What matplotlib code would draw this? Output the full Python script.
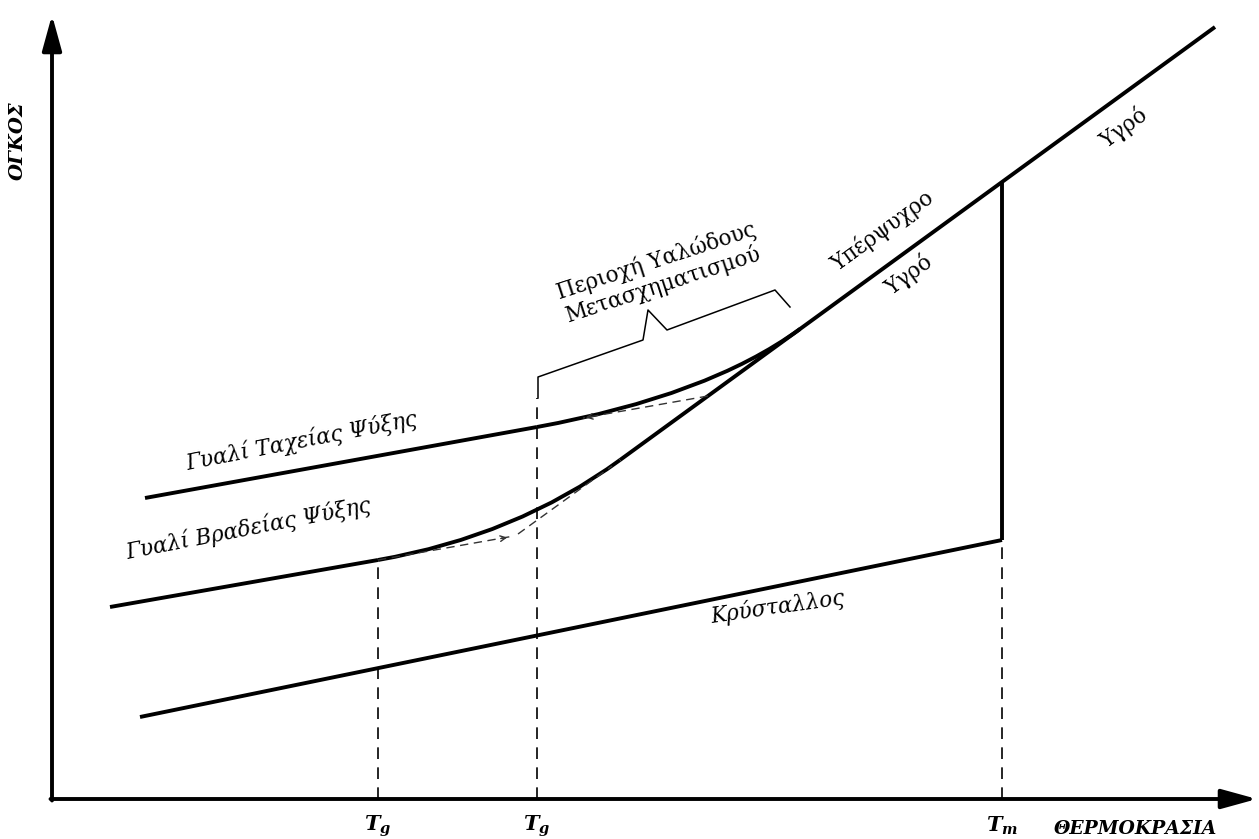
import matplotlib
matplotlib.use('Agg')
import matplotlib.pyplot as plt
from matplotlib.path import Path
from matplotlib.patches import PathPatch

plt.rcParams['font.family'] = ['DejaVu Serif']
plt.rcParams['mathtext.fontset'] = 'dejavuserif'

# schematic volume-temperature diagram (arbitrary units)
T_g_slow = 326
T_g_fast = 485
T_m = 950

liquid_T = [568, 748, 950, 1163]
liquid_V = [339, 470, 617, 772]

fast_glass_T = [93, 485]
fast_glass_V = [301, 372]
fast_curve_T = [485, 656, 748]   # start, control, end (joins liquid)
fast_curve_V = [372, 403, 470]

slow_glass_T = [58, 326]
slow_glass_V = [192, 239]
slow_curve_T = [326, 464, 568]
slow_curve_V = [239, 263, 339]

crystal_T = [88, 950]
crystal_V = [82, 259]
melt_V = [259, 617]

# extrapolations (dashed)
fast_ext_T = [656, 531]
fast_ext_V = [403, 381]
slow_ext_T = [326, 462]
slow_ext_V = [239, 263]
liquid_ext_T = [466, 560]
liquid_ext_V = [265, 333]

bracket_T = [486, 486, 591, 596, 615, 723, 738]
bracket_V = [401, 422, 459, 489, 469, 509, 492]

fig = plt.figure(figsize=(12.59, 8.39), dpi=100)
ax = fig.add_axes([0, 0, 1, 1])
ax.set_xlim(-52, 1207)
ax.set_ylim(-40, 799)
ax.axis('off')

lw = 2.8
ax.plot(liquid_T, liquid_V, color='black', lw=lw, solid_capstyle='butt')
ax.plot(fast_glass_T, fast_glass_V, color='black', lw=lw, solid_capstyle='butt')
ax.plot(slow_glass_T, slow_glass_V, color='black', lw=lw, solid_capstyle='butt')
ax.plot(crystal_T, crystal_V, color='black', lw=lw, solid_capstyle='butt')
ax.plot([T_m, T_m], melt_V, color='black', lw=lw, solid_capstyle='butt')

for cT, cV in [(fast_curve_T, fast_curve_V), (slow_curve_T, slow_curve_V)]:
    path = Path(list(zip(cT, cV)), [Path.MOVETO, Path.CURVE3, Path.CURVE3])
    ax.add_patch(PathPatch(path, fill=False, lw=lw, edgecolor='black'))

# dashed guides
dash = dict(color='black', lw=1.2, dashes=(7, 5))
ax.plot([T_g_slow, T_g_slow], [0, slow_glass_V[1]], **dash)
ax.plot([T_g_fast, T_g_fast], [0, bracket_V[0]], **dash)
ax.plot([T_m, T_m], [0, crystal_V[1]], **dash)

thin = dict(color='#333333', lw=1.0, dashes=(6, 4))
ax.plot(fast_ext_T, fast_ext_V, **thin)
ax.plot(slow_ext_T, slow_ext_V, **thin)
ax.plot(liquid_ext_T, liquid_ext_V, **thin)
ax.annotate('', xy=(fast_ext_T[1], fast_ext_V[1]), xytext=(fast_ext_T[1] + 12, fast_ext_V[1] + 2),
            arrowprops=dict(arrowstyle='->', lw=1.0, color='#333333', mutation_scale=10))
ax.annotate('', xy=(slow_ext_T[1] - 4, slow_ext_V[1] - 1), xytext=(slow_ext_T[1] - 16, slow_ext_V[1] - 3),
            arrowprops=dict(arrowstyle='->', lw=1.0, color='#333333', mutation_scale=10))

ax.plot(bracket_T, bracket_V, color='black', lw=1.1)

# axes with arrows
arrow = dict(arrowstyle='-|>,head_length=0.8,head_width=0.22', lw=2.8, color='black',
             mutation_scale=27, shrinkA=0, shrinkB=0)
ax.annotate('', xy=(0, 784), xytext=(0, -1.5), arrowprops=arrow)
ax.annotate('', xy=(1205, 0), xytext=(-1.5, 0), arrowprops=arrow)

# labels
ax.text(-34, 658, 'ΟΓΚΟΣ', rotation=90, ha='center', va='center',
        fontsize=14, fontweight='bold', fontstyle='italic')
ax.text(1135 - 52, -30, 'ΘΕΡΜΟΚΡΑΣΙΑ', ha='center', va='center',
        fontsize=13.5, fontweight='bold', fontstyle='italic')
for t, s in [(T_g_slow, r'$\mathbfit{T_g}$'), (T_g_fast, r'$\mathbfit{T_g}$'), (T_m, r'$\mathbfit{T_m}$')]:
    ax.text(t, -27, s, ha='center', va='center', fontsize=15)

ax.text(250, 358, 'Γυαλί Ταχείας Ψύξης', rotation=11, ha='center', va='center',
        fontsize=15.5, fontstyle='italic', rotation_mode='anchor')
ax.text(196, 270, 'Γυαλί Βραδείας Ψύξης', rotation=11, ha='center', va='center',
        fontsize=15.5, fontstyle='italic', rotation_mode='anchor')
ax.text(726, 192, 'Κρύσταλλος', rotation=8, ha='center', va='center',
        fontsize=15.5, fontstyle='italic', rotation_mode='anchor')
ax.text(608, 526, 'Περιοχή Υαλώδους\nΜετασχηματισμού', rotation=18, ha='center', va='center',
        fontsize=15.5, linespacing=1.1, rotation_mode='anchor', multialignment='center')
ax.text(830, 568, 'Υπέρψυχρο', rotation=36, ha='center', va='center', fontsize=15.5,
        rotation_mode='anchor')
ax.text(857, 524, 'Υγρό', rotation=36, ha='center', va='center', fontsize=15.5,
        rotation_mode='anchor')
ax.text(1072, 671, 'Υγρό', rotation=36, ha='center', va='center', fontsize=15.5,
        rotation_mode='anchor')

fig.savefig('out.png', dpi=100)
